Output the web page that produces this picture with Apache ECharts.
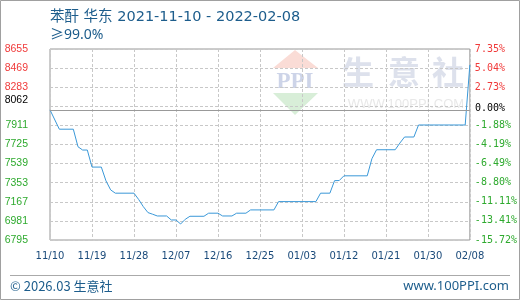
<!DOCTYPE html>
<html><head><meta charset="utf-8">
<script src="https://cdn.jsdelivr.net/npm/echarts@6/dist/echarts.min.js"></script>
<style>html,body{margin:0;padding:0;background:#fff}#c{width:520px;height:300px}</style>
</head><body><div id="c"></div>
<script>
const titleText = '苯酐 华东 2021-11-10 - 2022-02-08';
const subTitleText = '≥99.0%';
const footerLeft = '© 2026.03 生意社';
const footerRight = 'www.100PPI.com';
const startDate = '2021-11-10';
const baseValue = 8062;
const baseLabelLeft = '8062';
const baseLabelRight = '0.00%';

const dates = ['2021-11-10','2021-11-12','2021-11-15','2021-11-16','2021-11-17','2021-11-18','2021-11-19','2021-11-21','2021-11-22','2021-11-23','2021-11-24','2021-11-28','2021-11-29','2021-11-30','2021-12-01','2021-12-02','2021-12-03','2021-12-05','2021-12-06','2021-12-07','2021-12-08','2021-12-09','2021-12-10','2021-12-13','2021-12-14','2021-12-16','2021-12-17','2021-12-19','2021-12-20','2021-12-22','2021-12-23','2021-12-28','2021-12-29','2022-01-06','2022-01-07','2022-01-09','2022-01-10','2022-01-11','2022-01-12','2022-01-17','2022-01-18','2022-01-19','2022-01-23','2022-01-24','2022-01-25','2022-01-27','2022-01-28','2022-02-07','2022-02-08'];
const prices = [8062,7874,7874,7703,7671,7671,7505,7505,7371,7283,7251,7251,7190,7120,7062,7046,7029,7029,6990,6990,6951,6997,7026,7026,7056,7056,7029,7029,7056,7056,7088,7088,7169,7169,7251,7251,7373,7374,7420,7420,7586,7674,7674,7739,7798,7798,7915,7915,8500];

const yTicks = [6795,6981,7167,7353,7539,7725,7911,8097,8283,8469,8655];
const leftLabels = ['6795','6981','7167','7353','7539','7725','7911','','8283','8469','8655'];
const rightLabels = ['-15.72%','-13.41%','-11.11%','-8.80%','-6.49%','-4.19%','-1.88%','','2.73%','5.04%','7.35%'];
const xTickLabels = ['11/10','11/19','11/28','12/07','12/16','12/25','01/03','01/12','01/21','01/30','02/08'];
const xTickStep = 9;

const DAY = 86400000;
const dayOf = d => Math.round((Date.parse(d) - Date.parse(startDate)) / DAY);
const seriesData = dates.map((d, i) => [dayOf(d), prices[i]]);
const xMax = xTickStep * (xTickLabels.length - 1);
const yStep = yTicks[1] - yTicks[0];
const tickIdx = v => Math.round((v - yTicks[0]) / yStep);
const upColor = '#f03a3a', downColor = '#2eaa2e';

const chart = echarts.init(document.getElementById('c'), null, {renderer: 'canvas'});
const dash = {color: '#c8c8c8', type: [3, 2], width: 1};

chart.setOption({
  animation: false,
  grid: {left: 50, right: 50, top: 49, bottom: 60, show: true, borderColor: '#999', borderWidth: 1, backgroundColor: 'transparent'},
  xAxis: {
    type: 'value', min: 0, max: xMax, interval: xTickStep,
    axisLine: {show: false}, axisTick: {show: false},
    splitLine: {show: true, lineStyle: dash},
    axisLabel: {margin: 11, color: '#1a4a7a', fontFamily: 'DejaVu Sans', fontSize: 10,
      formatter: v => xTickLabels[Math.round(v / xTickStep)] || ''}
  },
  yAxis: [{
    type: 'value', position: 'left', min: yTicks[0], max: yTicks[yTicks.length - 1], interval: yStep,
    axisLine: {show: false}, axisTick: {show: false, customValues: yTicks},
    splitLine: {show: true, lineStyle: dash},
    axisLabel: {customValues: yTicks, margin: 22, fontFamily: 'Liberation Sans', fontSize: 10.5,
      formatter: v => leftLabels[tickIdx(v)] || '',
      color: v => v > baseValue ? upColor : downColor}
  }, {
    type: 'value', position: 'right', min: yTicks[0], max: yTicks[yTicks.length - 1], interval: yStep,
    axisLine: {show: false}, axisTick: {show: false, customValues: yTicks},
    splitLine: {show: false},
    axisLabel: {customValues: yTicks, margin: 5, fontFamily: 'DejaVu Sans Mono', fontSize: 10,
      formatter: v => rightLabels[tickIdx(v)] || '',
      color: v => v > baseValue ? upColor : downColor}
  }],
  series: [{
    type: 'line', data: seriesData, showSymbol: false, symbol: 'none',
    lineStyle: {color: '#3a98d8', width: 1}, itemStyle: {color: '#3a98d8'},
    markLine: {silent: true, symbol: 'none', label: {show: false},
      lineStyle: {color: '#999', type: 'solid', width: 1},
      data: [{yAxis: baseValue}]}
  }]
});

const baseY = chart.convertToPixel({yAxisIndex: 0}, baseValue);
const wmColor = '#dde1ec';
chart.setOption({
  graphic: [
    {type: 'rect', z: -20, shape: {x: 0.5, y: 0.5, width: 519, height: 299}, style: {fill: 'none', stroke: '#a0a0a0', lineWidth: 1}},
    {type: 'polygon', z: -10, shape: {points: [[273, 68], [295, 50], [318, 68]]}, style: {fill: '#fadcd6'}},
    {type: 'polygon', z: -10, shape: {points: [[273, 93], [318, 93], [295, 115]]}, style: {fill: '#d8eed8'}},
    {type: 'text', z: -10, x: 295, y: 82, style: {text: 'PPI', fill: '#cdd4e8', font: 'bold 23px "Liberation Serif"', textAlign: 'center', textVerticalAlign: 'middle'}},
    {type: 'text', z: -10, x: 358, y: 72, style: {text: '生', fill: wmColor, font: 'bold 32px "Noto Sans CJK SC"', textAlign: 'center', textVerticalAlign: 'middle'}},
    {type: 'text', z: -10, x: 404, y: 72, style: {text: '意', fill: wmColor, font: 'bold 32px "Noto Sans CJK SC"', textAlign: 'center', textVerticalAlign: 'middle'}},
    {type: 'text', z: -10, x: 448, y: 72, style: {text: '社', fill: wmColor, font: 'bold 32px "Noto Sans CJK SC"', textAlign: 'center', textVerticalAlign: 'middle'}},
    {type: 'text', z: -10, x: 406, y: 104, style: {text: 'WWW.100PPI.COM', fill: '#e8e8e8', font: '13px "Liberation Sans"', textAlign: 'center', textVerticalAlign: 'middle'}},
    {type: 'text', x: 50, y: 17, style: {text: titleText, fill: '#1d5d8c', font: '14.5px "DejaVu Sans", "Noto Sans CJK SC"', textVerticalAlign: 'middle'}},
    {type: 'text', x: 50, y: 35, style: {text: subTitleText, fill: '#1d5d8c', font: '14px "Noto Sans", "Noto Sans CJK SC"', textVerticalAlign: 'middle'}},
    {type: 'text', x: 28, y: baseY - 10, style: {text: baseLabelLeft, fill: '#000', font: '10.5px "Liberation Sans"', textAlign: 'right', textVerticalAlign: 'middle'}},
    {type: 'text', x: 475, y: baseY - 1, style: {text: baseLabelRight, fill: '#000', font: '10px "DejaVu Sans Mono"', textAlign: 'left', textVerticalAlign: 'middle'}},
    {type: 'line', shape: {x1: 10, y1: 275.5, x2: 510, y2: 275.5}, style: {stroke: '#aaa', lineWidth: 1}},
    {type: 'text', x: 10, y: 286, style: {text: footerLeft, fill: '#1d5d8c', font: '13px "Noto Sans CJK SC"', textVerticalAlign: 'middle'}},
    {type: 'text', x: 509, y: 286, style: {text: footerRight, fill: '#1d5d8c', font: '13px "Noto Sans"', textAlign: 'right', textVerticalAlign: 'middle'}}
  ]
});
</script></body></html>
